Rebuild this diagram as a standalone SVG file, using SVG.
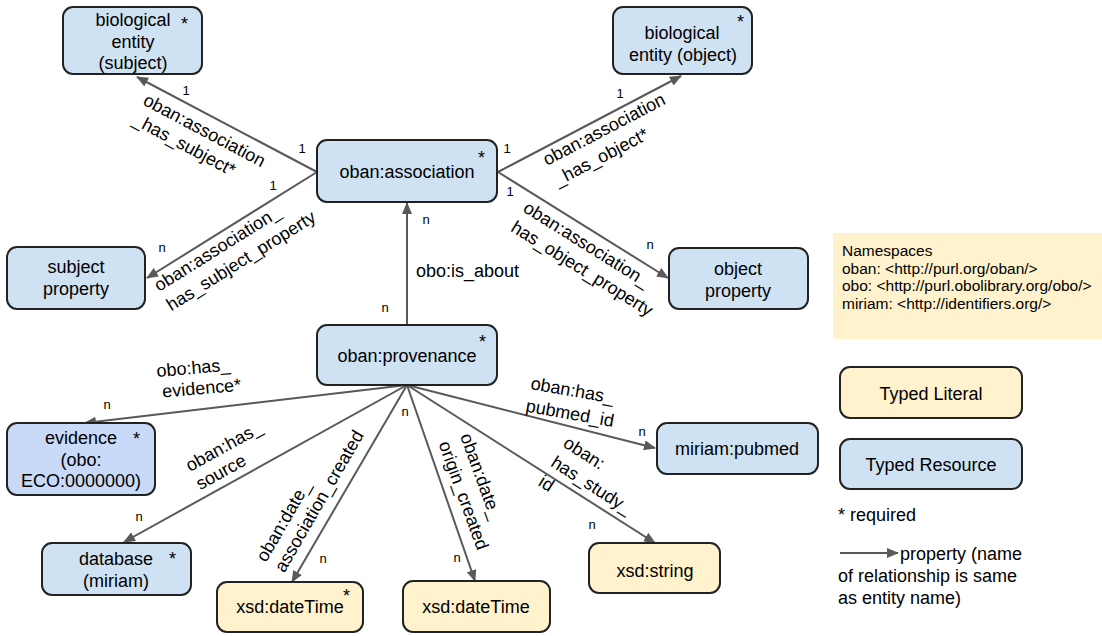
<svg xmlns="http://www.w3.org/2000/svg" width="1102" height="636" viewBox="0 0 1102 636">
<defs>
<marker id="ah" viewBox="0 0 12 10" markerWidth="12" markerHeight="10" refX="11" refY="5" orient="auto" markerUnits="userSpaceOnUse">
<path d="M0,0 L12,5 L0,10 z" fill="#595959"/>
</marker>
<style>
text{font-family:"Liberation Sans",Arial,sans-serif;fill:#000}
.res{fill:#cfe2f3;stroke:#222;stroke-width:2}
.ev{fill:#c9daf8;stroke:#222;stroke-width:2}
.lit{fill:#fff2cc;stroke:#222;stroke-width:2}
.nt{font-size:18px;text-anchor:middle}
.st{font-size:18px}
.lb{font-size:18px}
.m{font-size:13px;text-anchor:middle}
.e{stroke:#595959;stroke-width:2;fill:none;marker-end:url(#ah)}
</style>
</defs>
<rect width="1102" height="636" fill="#fff"/>

<g id="connectors">
<path class="e" d="M317,172 L137,77"/>
<path class="e" d="M317,172 L147,278"/>
<path class="e" d="M498,172 L681,76"/>
<path class="e" d="M498,172 L668,278"/>
<path class="e" d="M407,325 L407,203"/>
<path class="e" d="M407,385 L85,423"/>
<path class="e" d="M407,385 L124,542"/>
<path class="e" d="M407,385 L292,582"/>
<path class="e" d="M407,385 L475,581"/>
<path class="e" d="M407,385 L655,543"/>
<path class="e" d="M407,385 L655,448"/>

<g transform="translate(142,104) rotate(28)"><text class="lb" x="0" y="0">oban:association</text><text class="lb" x="0" y="22">_has_subject*</text></g>
<g transform="translate(159,292) rotate(-32)"><text class="lb" x="0" y="0">oban:association_</text><text class="lb" x="0" y="23">has_subject_property</text></g>
<g transform="translate(547,166) rotate(-27.6)"><text class="lb" x="0" y="0">oban:association</text><text class="lb" x="0" y="23">_has_object*</text></g>
<g transform="translate(522,211) rotate(32)"><text class="lb" x="0" y="0">oban:association_</text><text class="lb" x="0" y="23">has_object_property</text></g>
<text class="lb" x="416" y="277">obo:is_about</text>
<g transform="translate(157,377) rotate(-5)"><text class="lb" x="0" y="0">obo:has_</text><text class="lb" x="4" y="21">evidence*</text></g>
<g transform="translate(190,472) rotate(-29)"><text class="lb" x="0" y="0">oban:has_</text><text class="lb" x="0" y="21">source</text></g>
<g transform="translate(266,563) rotate(-60)"><text class="lb" x="0" y="0">oban:date_</text><text class="lb" x="0" y="21">association_created</text></g>
<g transform="translate(460,436) rotate(70)"><text class="lb" x="0" y="0">oban:date_</text><text class="lb" x="0" y="23">origin_created</text></g>
<g transform="translate(562,446) rotate(32.5)"><text class="lb" x="0" y="0">oban:</text><text class="lb" x="0" y="23">has_study_</text><text class="lb" x="0" y="46">id</text></g>
<g transform="translate(530,389) rotate(10)"><text class="lb" x="0" y="0">oban:has_</text><text class="lb" x="-1" y="23">pubmed_id</text></g>

<text class="m" x="186" y="95">1</text>
<text class="m" x="302" y="153">1</text>
<text class="m" x="273" y="190">1</text>
<text class="m" x="162" y="252">n</text>
<text class="m" x="507" y="153">1</text>
<text class="m" x="620" y="98">1</text>
<text class="m" x="510" y="196">1</text>
<text class="m" x="650" y="249">n</text>
<text class="m" x="426" y="224">n</text>
<text class="m" x="385" y="312">n</text>
<text class="m" x="107" y="409">n</text>
<text class="m" x="139" y="521">n</text>
<text class="m" x="323" y="563">n</text>
<text class="m" x="405" y="416">n</text>
<text class="m" x="457" y="562">n</text>
<text class="m" x="592" y="529">n</text>
<text class="m" x="642" y="436">n</text>
</g>

<g id="bio-subject">
<rect class="res" x="63" y="7" width="139" height="67" rx="10"/>
<text class="nt" x="133" y="26">biological</text>
<text class="nt" x="133" y="47.5">entity</text>
<text class="nt" x="133" y="69">(subject)</text>
<text class="st" x="181" y="30">*</text>
</g>
<g id="bio-object">
<rect class="res" x="613" y="7" width="139" height="67" rx="10"/>
<text class="nt" x="682" y="39">biological</text>
<text class="nt" x="683" y="61">entity (object)</text>
<text class="st" x="737" y="28">*</text>
</g>
<g id="association">
<rect class="res" x="317" y="140" width="180" height="62" rx="10"/>
<text class="nt" x="407" y="178">oban:association</text>
<text class="st" x="478" y="164">*</text>
</g>
<g id="provenance">
<rect class="res" x="317" y="325" width="180" height="60" rx="10"/>
<text class="nt" x="407" y="362">oban:provenance</text>
<text class="st" x="479" y="348">*</text>
</g>
<g id="subject-property">
<rect class="res" x="7" y="247" width="138" height="62" rx="10"/>
<text class="nt" x="76" y="273">subject</text>
<text class="nt" x="76" y="295">property</text>
</g>
<g id="object-property">
<rect class="res" x="669" y="248" width="139" height="61" rx="10"/>
<text class="nt" x="738" y="275">object</text>
<text class="nt" x="738" y="297">property</text>
</g>
<g id="evidence">
<rect class="ev" x="7" y="423" width="148" height="72" rx="10"/>
<text class="nt" x="81" y="444">evidence</text>
<text class="nt" x="81" y="466">(obo:</text>
<text class="nt" x="81" y="487">ECO:0000000)</text>
<text class="st" x="133" y="445">*</text>
</g>
<g id="database">
<rect class="res" x="42" y="543" width="149" height="52" rx="10"/>
<text class="nt" x="116" y="565">database</text>
<text class="nt" x="116" y="587">(miriam)</text>
<text class="st" x="169" y="565">*</text>
</g>
<g id="datetime-1">
<rect class="lit" x="217" y="582" width="146" height="50" rx="10"/>
<text class="nt" x="290" y="613">xsd:dateTime</text>
<text class="st" x="343" y="602">*</text>
</g>
<g id="datetime-2">
<rect class="lit" x="403" y="581" width="147" height="51" rx="10"/>
<text class="nt" x="476" y="613">xsd:dateTime</text>
</g>
<g id="string">
<rect class="lit" x="589" y="543" width="131" height="50" rx="10"/>
<text class="nt" x="655" y="577">xsd:string</text>
</g>
<g id="pubmed">
<rect class="res" x="657" y="423" width="161" height="51" rx="10"/>
<text class="nt" x="737" y="455">miriam:pubmed</text>
</g>

<g id="legend">
<rect x="833" y="233" width="269" height="106" fill="#fff2cc"/>
<text x="842" y="256" font-size="15.5">Namespaces</text>
<text x="842" y="273.5" font-size="15.5">oban: &lt;http://purl.org/oban/&gt;</text>
<text x="842" y="291" font-size="15.5">obo: &lt;http://purl.obolibrary.org/obo/&gt;</text>
<text x="842" y="308.5" font-size="15.5">miriam: &lt;http://identifiers.org/&gt;</text>
<rect class="lit" x="840" y="367" width="182" height="51" rx="10"/>
<text class="nt" x="931" y="400">Typed Literal</text>
<rect class="res" x="840" y="439" width="182" height="50" rx="10"/>
<text class="nt" x="931" y="471">Typed Resource</text>
<text class="st" x="838" y="521">* required</text>
<path class="e" d="M840,553 L898,553"/>
<text class="st" x="900" y="560">property (name</text>
<text class="st" x="838" y="582">of relationship is same</text>
<text class="st" x="838" y="604">as entity name)</text>
</g>
</svg>
